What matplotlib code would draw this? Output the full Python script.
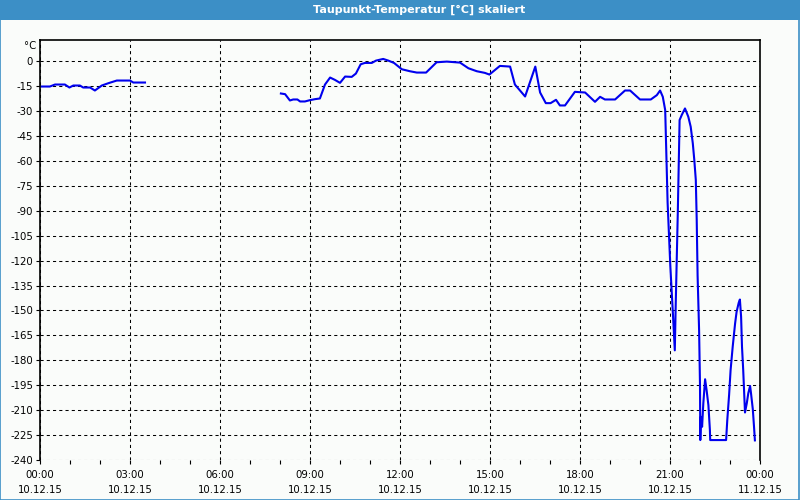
import matplotlib
matplotlib.use("Agg")
import matplotlib.pyplot as plt
from matplotlib.patches import Rectangle

# dew point data, time in hours since 10.12.15 00:00
seg1_h = [0.0, 0.33, 0.5, 0.83, 0.98, 1.11, 1.33, 1.44, 1.67, 1.83, 2.06, 2.28, 2.56, 3.0, 3.11, 3.5]
seg1_v = [-15.2, -15.2, -14, -14, -15.8, -14.6, -14.6, -15.8, -15.8, -17.6, -14.6, -13.2, -11.6, -11.6, -12.8, -12.8]

seg2_h = [8.03, 8.17, 8.33, 8.44, 8.58, 8.67, 8.83, 9.0, 9.17, 9.33,
          9.5, 9.67, 9.83, 10.0, 10.17, 10.39, 10.53, 10.69, 10.83, 11.06,
          11.2, 11.44, 11.61, 11.8, 12.06, 12.33, 12.56, 12.87, 13.22, 13.56,
          14.0, 14.28, 14.56, 14.83, 14.98, 15.33, 15.67, 15.83, 16.17, 16.51,
          16.67, 16.86, 17.02, 17.2, 17.33, 17.5, 17.83, 18.17, 18.5, 18.67,
          18.83, 19.17, 19.5, 19.67, 20.0, 20.36, 20.56, 20.67, 20.76, 20.84,
          20.92, 21.01, 21.1, 21.16, 21.19, 21.26, 21.32, 21.39, 21.5, 21.61,
          21.69, 21.76, 21.81, 21.86, 21.89, 21.92, 21.97, 22.0, 22.01, 22.03,
          22.07, 22.11, 22.17, 22.22, 22.28, 22.33, 22.34, 22.87, 22.91, 22.97,
          23.02, 23.09, 23.17, 23.22, 23.29, 23.33, 23.37, 23.4, 23.44, 23.5,
          23.56, 23.61, 23.67, 23.7, 23.76, 23.8, 23.83]
seg2_v = [-19.4, -19.8, -23.6, -23, -23, -24.2, -24.2, -23.4, -22.8, -22.4,
          -14, -9.8, -11.2, -13, -9.2, -9.4, -7.4, -1.8, -1, -1,
          0.4, 1.4, 0.4, -1, -4.8, -6, -6.8, -6.8, -0.6, -0.2,
          -0.8, -4.2, -6, -7, -8, -2.8, -3.2, -14, -21.2, -3.2,
          -18.8, -25.2, -25.2, -23.2, -26.6, -26.6, -18.4, -18.8, -24.4, -21.4,
          -23, -23, -17.6, -17.6, -23, -23, -20.4, -17.6, -21.4, -29.4,
          -85, -123, -153, -174, -147, -91, -35.4, -32.4, -28.4, -33.4,
          -39.4, -49.4, -59.4, -71.4, -95, -129, -162, -195, -228, -214,
          -220, -206, -191.4, -198, -207, -222, -228, -228, -215.8, -200.8,
          -185.8, -171.8, -157.8, -150.8, -145.4, -143.4, -153.8, -171.8, -185.8, -211.4,
          -205.8, -199.8, -195.4, -199.8, -209.4, -219.8, -228.2]

x_ticks = [0, 3, 6, 9, 12, 15, 18, 21, 24]
x_labels = ["00:00\n10.12.15", "03:00\n10.12.15", "06:00\n10.12.15", "09:00\n10.12.15",
            "12:00\n10.12.15", "15:00\n10.12.15", "18:00\n10.12.15", "21:00\n10.12.15",
            "00:00\n11.12.15"]
y_ticks = list(range(0, -241, -15))

title = "Taupunkt-Temperatur [°C] skaliert"
bg = "#fafcfa"
bar = "#3c8fc6"
line_col = "#0000ee"

fig = plt.figure(figsize=(8, 5), dpi=100, facecolor=bg)

# title bar and window border
fig.patches.append(Rectangle((0, 0.96), 1, 0.04, transform=fig.transFigure,
                             facecolor=bar, edgecolor="none", zorder=0))
fig.patches.append(Rectangle((0.0006, 0.001), 0.9982, 0.998, transform=fig.transFigure,
                             facecolor="none", edgecolor=bar, lw=1.2, zorder=1))
fig.text(0.524, 0.98, title, color="white", fontsize=8, fontweight="bold",
         ha="center", va="center")

ax = fig.add_axes([0.05, 0.08, 0.90, 0.84], facecolor=bg)
ax.plot(seg1_h, seg1_v, color=line_col, lw=1.5)
ax.plot(seg2_h, seg2_v, color=line_col, lw=1.5)

ax.set_xlim(0, 24)
ax.set_ylim(-240, 12.8)
ax.set_xticks(x_ticks)
ax.set_xticklabels(x_labels, fontsize=7.3, linespacing=1.6)
ax.set_xticks(range(0, 25), minor=True)
ax.set_yticks(y_ticks)
ax.set_yticklabels([str(v) for v in y_ticks], fontsize=7.3)
ax.tick_params(axis="both", which="both", direction="out", length=3, width=0.8,
               color="black", pad=2)
ax.tick_params(axis="x", which="major", pad=4)

ax.grid(True, which="major", color="black", lw=0.75, linestyle=(0, (3, 3)))
ax.spines["bottom"].set_visible(False)
for s in ["left", "top", "right"]:
    ax.spines[s].set_linewidth(1.2)

ax.text(-0.005, 0.998, "°C", transform=ax.transAxes, fontsize=7.3,
        ha="right", va="top")

fig.savefig("out.png", dpi=100, facecolor=bg)
